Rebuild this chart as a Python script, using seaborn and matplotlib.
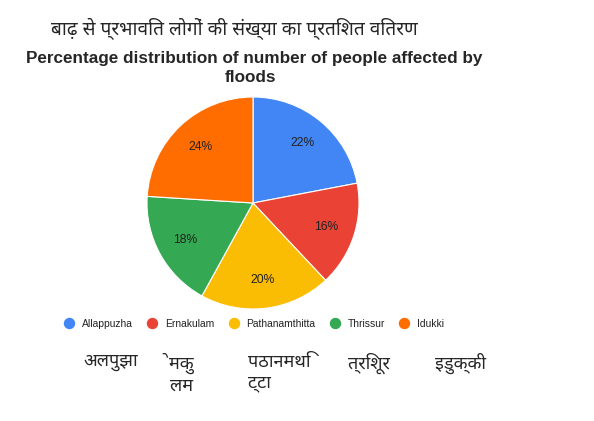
import matplotlib
matplotlib.use("Agg")
import matplotlib.pyplot as plt
from matplotlib import font_manager
from matplotlib.ft2font import FT2Font
from matplotlib.lines import Line2D
import seaborn as sns

# data
districts = ['Allappuzha', 'Ernakulam', 'Pathanamthitta', 'Thrissur', 'Idukki']
shares = [22, 16, 20, 18, 24]
colors = ['#4285F4', '#EA4335', '#FBBC04', '#34A853', '#FF6D01']
hindi_title = 'बाढ़ से प्रभावित लोगों की संख्या का प्रतिशत वितरण'
hindi_names = ['अलपुझा', 'ेमकु\nलम', 'पठानमथि\nट्टा', 'त्रिशूर', 'इडुक्की']

sns.set_style('white')
plt.rcParams['font.family'] = ['Liberation Sans', 'DejaVu Sans']

# pick a font with devanagari glyphs, preferring mangal-like ones
deva = set()
for f in font_manager.fontManager.ttflist:
    try:
        if 0x0915 in FT2Font(f.fname).get_charmap():
            deva.add(f.name)
    except Exception:
        pass
hindi_font = None
for name in ['Noto Sans Devanagari', 'Hind', 'Mukta', 'Lohit Devanagari', 'FreeSans', 'Ek Mukta']:
    if name in deva:
        hindi_font = name
        break
if hindi_font is None and deva:
    hindi_font = sorted(deva)[0]
hindi_family = [hindi_font, 'DejaVu Sans'] if hindi_font else ['DejaVu Sans']

W, H = 594, 421
fig = plt.figure(figsize=(W / 100, H / 100), dpi=100)

# pie axes: centre (253, 203) px, radius ~106 px
cx, cy, r = 253, 203, 106
ax = fig.add_axes([(cx - r) / W, (H - cy - r) / H, 2 * r / W, 2 * r / H])
ax.pie(shares, colors=colors, startangle=90, counterclock=False,
       autopct='%d%%', pctdistance=0.73,
       wedgeprops={'linewidth': 0.8, 'edgecolor': 'white'},
       textprops={'fontsize': 8.7, 'color': '#222222'})
ax.set_xlim(-1, 1)
ax.set_ylim(-1, 1)
ax.set_aspect('equal')
ax.axis('off')

fig.text(51 / W, 1 - 29 / H, hindi_title, family=hindi_family, fontsize=13.7,
         va='center', ha='left')
fig.text(254 / W, 1 - 58 / H, 'Percentage distribution of number of people affected by',
         fontsize=12.3, fontweight='bold', ha='center', va='center')
fig.text(250 / W, 1 - 77 / H, 'floods', fontsize=12.3, fontweight='bold',
         ha='center', va='center')

# legend
handles = [Line2D([], [], marker='o', linestyle='', markersize=7.2,
                  markerfacecolor=c, markeredgecolor=c) for c in colors]
fig.legend(handles, districts, loc='center left', bbox_to_anchor=(64 / W, 1 - 324 / H),
           ncol=5, frameon=False, fontsize=7.4, handletextpad=0.75, columnspacing=1.38,
           labelcolor='#222222', handlelength=1.0, borderpad=0, borderaxespad=0)

# hindi names under the legend
name_x = [84, 170, 248, 348, 435]
for x, name in zip(name_x, hindi_names):
    fig.text(x / W, 1 - 353 / H, name, family=hindi_family, fontsize=13,
             ha='left', va='top', linespacing=1.2)

fig.savefig('out.png', dpi=100)
